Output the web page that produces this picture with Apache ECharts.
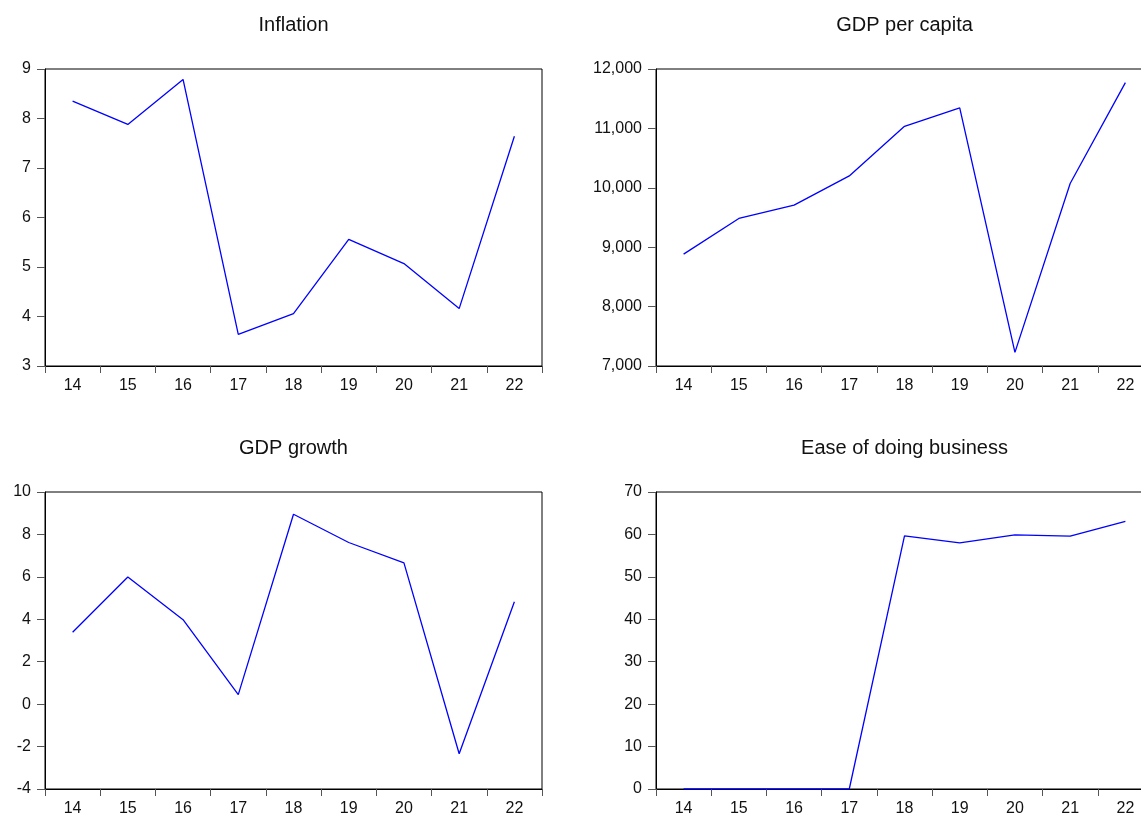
<!DOCTYPE html>
<html>
<head>
<meta charset="utf-8">
<script src="https://cdn.jsdelivr.net/npm/echarts@6/dist/echarts.min.js"></script>
<style>
  html, body { margin: 0; padding: 0; background: #fff; }
  #main { width: 1141px; height: 816px; }
</style>
</head>
<body>
<div id="main"></div>
<script>
// years on the x axis
var years = ['14', '15', '16', '17', '18', '19', '20', '21', '22'];

// series
var inflation = [8.35, 7.88, 8.79, 3.64, 4.06, 5.56, 5.07, 4.16, 7.64];
var gdpPerCapita = [8884, 9484, 9708, 10200, 11036, 11346, 7230, 10072, 11771];
var gdpGrowth = [3.39, 5.99, 3.98, 0.45, 8.95, 7.62, 6.66, -2.34, 4.83];
var easeBusiness = [0, 0, 0, 0, 59.65, 58.0, 59.9, 59.6, 63.1];

var titles = ['Inflation', 'GDP per capita', 'GDP growth', 'Ease of doing business'];
var font = 'Liberation Sans, Arial, sans-serif';

// panel boxes (left, top, width, height) - right panels run past the page edge
var boxes = [
  { left: 45, top: 69, width: 497, height: 297 },
  { left: 656, top: 69, width: 497, height: 297 },
  { left: 45, top: 492, width: 497, height: 297 },
  { left: 656, top: 492, width: 497, height: 297 }
];

var yRanges = [
  { min: 3, max: 9, interval: 1 },
  { min: 7000, max: 12000, interval: 1000 },
  { min: -4, max: 10, interval: 2 },
  { min: 0, max: 70, interval: 10 }
];

var seriesData = [inflation, gdpPerCapita, gdpGrowth, easeBusiness];

var myChart = echarts.init(document.getElementById('main'));

var option = {
  animation: false,
  backgroundColor: '#fff',
  title: [],
  grid: [],
  xAxis: [],
  yAxis: [],
  series: []
};

boxes.forEach(function (b, i) {
  option.title.push({
    text: titles[i],
    left: b.left + b.width / 2,
    top: b.top - 54,
    textAlign: 'center',
    padding: 0,
    textStyle: { fontFamily: font, fontSize: 20, fontWeight: 'normal', color: '#111' }
  });
  option.grid.push({
    left: b.left,
    top: b.top,
    width: b.width,
    height: b.height,
    show: true,
    borderColor: '#000',
    borderWidth: 1,
    containLabel: false,
    outerBoundsMode: 'none'
  });
  option.xAxis.push({
    type: 'category',
    gridIndex: i,
    data: years,
    boundaryGap: true,
    axisLine: { onZero: false, lineStyle: { color: '#000', width: 1 } },
    axisTick: { show: true, length: 7, lineStyle: { color: '#555' } },
    axisLabel: { margin: 12, fontFamily: font, fontSize: 16, color: '#111' },
    splitLine: { show: false }
  });
  option.yAxis.push({
    type: 'value',
    gridIndex: i,
    min: yRanges[i].min,
    max: yRanges[i].max,
    interval: yRanges[i].interval,
    axisLine: { show: true, onZero: false, lineStyle: { color: '#000', width: 1 } },
    axisTick: { show: true, length: 8, lineStyle: { color: '#555' } },
    axisLabel: {
      margin: 14,
      fontFamily: font,
      fontSize: 16,
      color: '#111',
      padding: [0, 0, 6, 0],
      formatter: function (v) { return v.toLocaleString('en-US'); }
    },
    splitLine: { show: false }
  });
  option.series.push({
    type: 'line',
    xAxisIndex: i,
    yAxisIndex: i,
    data: seriesData[i],
    showSymbol: false,
    silent: true,
    lineStyle: { color: '#0000ff', width: 1.3 }
  });
});

myChart.setOption(option);
</script>
</body>
</html>
